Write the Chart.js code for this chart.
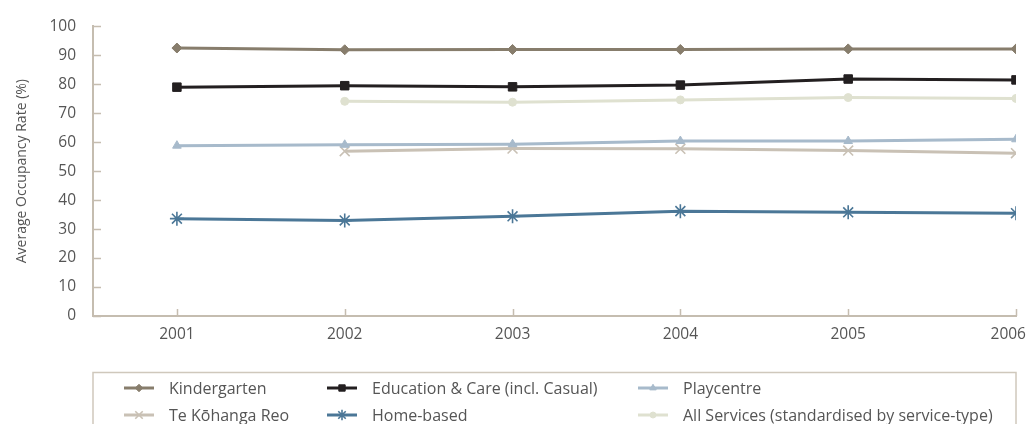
<!DOCTYPE html>
<html>
<head>
<meta charset="utf-8">
<script src="https://cdn.jsdelivr.net/npm/chart.js@4/dist/chart.umd.min.js"></script>
<style>
  html, body { margin: 0; padding: 0; background: #ffffff; }
  #wrap { width: 1028px; height: 424px; position: relative; overflow: hidden; }
</style>
</head>
<body>
<div id="wrap"><canvas id="chart" width="1028" height="424"></canvas></div>
<script>
// Average occupancy rate (%) by service type, 2001-2006
const years = [2001, 2002, 2003, 2004, 2005, 2006];
const yTicks = [0, 10, 20, 30, 40, 50, 60, 70, 80, 90, 100];

const kindergarten  = [92.5, 91.9, 92.0, 92.0, 92.2, 92.2];
const educationCare = [79.0, 79.5, 79.1, 79.7, 81.8, 81.5];
const playcentre    = [58.8, 59.1, 59.3, 60.4, 60.4, 61.0];
const teKohangaReo  = [null, 56.9, 57.8, 57.7, 57.1, 56.2];
const homeBased     = [33.6, 33.0, 34.4, 36.2, 35.8, 35.5];
const allServices   = [null, 74.1, 73.8, 74.6, 75.4, 75.1];

const AXIS = '#c5bdb0';
const TEXT = '#555555';
const FONT = "'Open Sans', 'Noto Sans', sans-serif";

function points(values) {
  return years.map((yr, i) => ({ x: yr, y: values[i] }));
}

function series(label, values, color, style, radius, bw) {
  return {
    label: label,
    data: points(values),
    borderColor: color,
    backgroundColor: color,
    pointBackgroundColor: color,
    pointBorderColor: color,
    borderWidth: 3,
    pointStyle: style,
    pointRadius: radius,
    pointHoverRadius: radius,
    pointBorderWidth: bw,
    tension: 0,
    spanGaps: false
  };
}

const datasets = [
  series('Kindergarten', kindergarten, '#877d6c', 'rectRot', 5, 1),
  series('Education & Care (incl. Casual)', educationCare, '#231f20', 'rect', 6, 1),
  series('Playcentre', playcentre, '#a7bacb', 'triangle', 5, 1),
  series('Te K\u014dhanga Reo', teKohangaReo, '#c9c1b5', 'crossRot', 7, 1.6),
  series('Home-based', homeBased, '#4b7797', 'star', 7, 1.6),
  series('All Services (standardised by service-type)', allServices, '#dfe1d0', 'circle', 4, 1)
];

// Short inward tick marks on both axes
const axisTicks = {
  id: 'axisTicks',
  afterDatasetsDraw(chart) {
    const ctx = chart.ctx;
    const xs = chart.scales.x, ys = chart.scales.y;
    const a = chart.chartArea;
    ctx.save();
    ctx.strokeStyle = AXIS;
    ctx.lineWidth = 1.5;
    ctx.beginPath();
    yTicks.forEach(v => {
      const py = Math.round(ys.getPixelForValue(v)) + 0.5;
      ctx.moveTo(a.left, py);
      ctx.lineTo(a.left + 8, py);
    });
    years.forEach(yr => {
      const px = Math.round(xs.getPixelForValue(yr)) + 0.5;
      ctx.moveTo(px, a.bottom);
      ctx.lineTo(px, a.bottom - 7);
    });
    ctx.stroke();
    ctx.restore();
  }
};

// Boxed legend in three columns under the plot
const boxLegend = {
  id: 'boxLegend',
  afterDraw(chart) {
    const ctx = chart.ctx;
    const colX = [124, 327, 638];
    const rowY = [388, 415];
    ctx.save();
    ctx.strokeStyle = '#cfc8bc';
    ctx.lineWidth = 1.5;
    ctx.strokeRect(93, 372.5, 923, 70);
    ctx.font = '16px ' + FONT;
    ctx.textBaseline = 'middle';
    chart.data.datasets.forEach((ds, i) => {
      const x = colX[i % 3];
      const y = rowY[Math.floor(i / 3)];
      ctx.strokeStyle = ds.borderColor;
      ctx.lineWidth = 3;
      ctx.beginPath();
      ctx.moveTo(x, y);
      ctx.lineTo(x + 30, y);
      ctx.stroke();
      ctx.fillStyle = ds.pointBackgroundColor;
      ctx.strokeStyle = ds.pointBorderColor;
      ctx.lineWidth = ds.pointBorderWidth;
      Chart.helpers.drawPoint(ctx, {
        pointStyle: ds.pointStyle,
        radius: ds.pointRadius * 0.75,
        borderWidth: ds.pointBorderWidth,
        rotation: 0
      }, x + 15, y);
      ctx.fillStyle = TEXT;
      ctx.fillText(ds.label, x + 45, y + 1);
    });
    ctx.restore();
  }
};

new Chart(document.getElementById('chart'), {
  type: 'line',
  data: { datasets: datasets },
  plugins: [axisTicks, boxLegend],
  options: {
    responsive: false,
    animation: false,
    devicePixelRatio: 1,
    layout: { padding: { top: 22, right: 12, left: 0, bottom: 0 } },
    plugins: {
      legend: { display: false },
      tooltip: { enabled: false }
    },
    scales: {
      x: {
        type: 'linear',
        min: 2000.5,
        max: 2006,
        afterBuildTicks(scale) {
          scale.ticks = years.map(v => ({ value: v }));
        },
        afterFit(scale) {
          scale.height = 108;
          scale.paddingRight = 0;
          scale.paddingLeft = 0;
        },
        grid: { display: false, drawTicks: false },
        border: { display: true, color: AXIS, width: 2 },
        ticks: {
          padding: 9,
          color: TEXT,
          font: { family: FONT, size: 15.5 },
          // the last year sits on the right edge; pad it so it stays in view
          callback: v => (v === years[years.length - 1] ? String(v) + '\u2003' : String(v)),
          maxRotation: 0,
          autoSkip: false
        }
      },
      y: {
        min: 0,
        max: 100,
        afterBuildTicks(scale) {
          scale.ticks = yTicks.map(v => ({ value: v }));
        },
        afterFit(scale) {
          scale.width = 93;
        },
        grid: { display: false, drawTicks: false },
        border: { display: true, color: AXIS, width: 2 },
        ticks: {
          padding: 17,
          color: TEXT,
          font: { family: FONT, size: 15.5 },
          callback: v => String(v)
        },
        title: {
          display: true,
          text: 'Average Occupancy Rate (%)',
          color: TEXT,
          font: { family: FONT, size: 14 },
          padding: { top: 14, bottom: 0 }
        }
      }
    }
  }
});
</script>
</body>
</html>
